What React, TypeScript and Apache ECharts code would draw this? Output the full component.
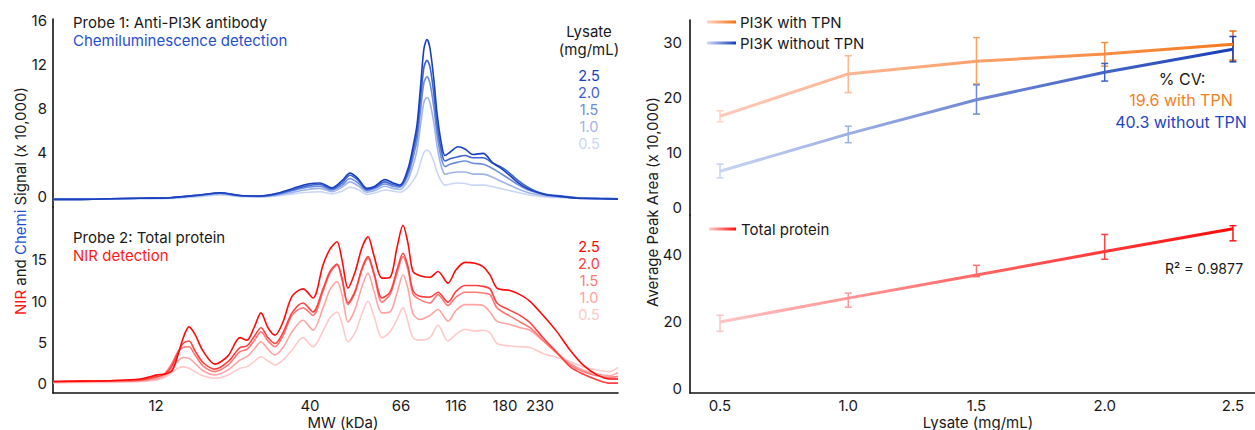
import React, { useEffect, useRef } from "react";
import * as echarts from "echarts";

// ---------- Left panel: electropherograms (x = relative migration position, a.u.) ----------
const mwTickPos = [103, 257, 348, 403, 452, 487];
const mwTickLabels = ["12", "40", "66", "116", "180", "230"];

const chemiX = [0, 27, 57, 87, 117, 147, 167, 187, 207, 224, 240, 255, 267, 279, 289, 297, 305, 314, 322, 332, 340, 347, 355, 360, 364, 368, 371, 374, 377, 381, 384, 388, 392, 397, 405, 412, 420, 430, 440, 447, 454, 464, 474, 484, 494, 509, 524, 547, 565];
const chemi25 = [-0.3, -0.3, -0.25, -0.2, -0.15, 0.1, 0.3, 0.05, 0.0, 0.25, 0.7, 1.1, 1.2, 0.75, 1.4, 2.1, 1.6, 0.7, 0.9, 1.5, 1.2, 1.0, 2.5, 4.5, 6.5, 10.5, 13.5, 14.3, 13.5, 10.5, 7.6, 5.0, 3.7, 4.0, 4.5, 4.3, 3.8, 3.9, 3.0, 2.6, 2.1, 1.3, 0.7, 0.35, 0.1, -0.05, -0.2, -0.25, -0.28];
const chemi20 = [-0.3, -0.3, -0.25, -0.2, -0.15, 0.1, 0.28, 0.05, 0, 0.2, 0.6, 0.95, 1.05, 0.65, 1.2, 1.9, 1.45, 0.6, 0.8, 1.3, 1.05, 0.9, 2.2, 4.0, 5.8, 9.3, 11.8, 12.4, 11.8, 9.2, 6.6, 4.3, 3.2, 3.4, 3.6, 3.7, 3.5, 3.5, 3.0, 2.7, 2.3, 1.5, 0.85, 0.4, 0.15, 0, -0.15, -0.22, -0.25];
const chemi15 = [-0.3, -0.3, -0.25, -0.2, -0.15, 0.08, 0.25, 0.03, -0.02, 0.15, 0.5, 0.8, 0.9, 0.55, 1.0, 1.6, 1.2, 0.5, 0.7, 1.1, 0.9, 0.8, 1.9, 3.5, 5.1, 8.2, 10.4, 10.9, 10.3, 8.0, 5.7, 3.6, 2.7, 2.9, 3.1, 3.2, 3.0, 2.9, 2.5, 2.1, 1.7, 1.1, 0.6, 0.3, 0.1, -0.05, -0.15, -0.22, -0.25];
const chemi10 = [-0.3, -0.3, -0.25, -0.22, -0.18, 0.03, 0.2, 0.0, -0.05, 0.1, 0.35, 0.6, 0.7, 0.4, 0.8, 1.3, 0.95, 0.35, 0.5, 0.9, 0.7, 0.6, 1.5, 2.8, 4.2, 6.8, 8.6, 9.0, 8.5, 6.6, 4.6, 2.8, 2.0, 2.1, 2.2, 2.2, 2.0, 2.0, 1.7, 1.4, 1.1, 0.7, 0.35, 0.15, 0.0, -0.1, -0.18, -0.23, -0.25];
const chemi05 = [-0.3, -0.3, -0.28, -0.25, -0.22, -0.05, 0.1, -0.05, -0.1, 0.0, 0.2, 0.35, 0.4, 0.2, 0.45, 0.8, 0.6, 0.15, 0.3, 0.55, 0.45, 0.35, 0.8, 1.4, 2.0, 3.2, 4.0, 4.2, 4.0, 3.1, 2.2, 1.4, 1.0, 1.1, 1.2, 1.15, 1.0, 1.0, 0.85, 0.7, 0.55, 0.35, 0.15, 0.0, -0.1, -0.15, -0.2, -0.23, -0.25];

const nirX = [0, 27, 57, 87, 104, 112, 119, 125, 130, 136, 142, 150, 162, 175, 187, 194, 201, 208, 215, 222, 230, 239, 250, 260, 270, 277, 284, 289, 295, 302, 309, 315, 321, 329, 337, 344, 350, 355, 360, 367, 377, 385, 395, 403, 412, 422, 430, 437, 444, 457, 467, 477, 490, 504, 517, 530, 544, 557, 565];
const nir25 = [0.3, 0.35, 0.4, 0.6, 1.1, 1.2, 1.6, 3.5, 5.5, 6.9, 6.0, 4.0, 2.4, 3.4, 5.6, 5.3, 6.8, 8.6, 6.8, 5.9, 7.5, 10.6, 11.5, 10.4, 14.4, 16.3, 17.2, 15.0, 11.6, 13.5, 16.5, 17.8, 15.5, 12.8, 12.9, 16.5, 19.2, 17.0, 13.6, 13.1, 12.9, 13.6, 12.2, 13.8, 14.7, 14.6, 14.2, 13.2, 11.6, 11.3, 10.8, 10.0, 8.3, 6.3, 4.1, 2.3, 1.1, 0.6, 0.6];
const nir20 = [0.3, 0.35, 0.4, 0.5, 0.9, 1.2, 2.2, 3.8, 4.9, 5.2, 4.0, 2.6, 1.8, 2.7, 4.4, 4.6, 5.7, 6.8, 5.6, 4.9, 6.2, 8.6, 9.8, 8.7, 11.5, 13.6, 14.5, 12.8, 9.8, 11.2, 14.0, 15.4, 13.4, 10.4, 11.1, 13.8, 15.8, 14.2, 11.3, 10.6, 10.5, 11.1, 9.9, 11.2, 11.9, 11.9, 11.8, 11.5, 9.8, 8.9, 8.3, 7.4, 5.6, 3.8, 2.1, 1.2, 0.5, 0.1, 0.1];
const nir15 = [0.25, 0.3, 0.35, 0.45, 0.8, 1.3, 2.5, 3.9, 4.4, 4.5, 3.5, 2.2, 1.5, 2.3, 3.9, 4.2, 5.2, 6.3, 5.2, 4.5, 5.8, 8.3, 9.2, 8.3, 11.2, 13.4, 14.4, 12.6, 9.6, 11.0, 13.8, 15.2, 13.2, 9.9, 10.8, 13.4, 15.4, 13.8, 10.9, 10.2, 9.8, 10.8, 9.5, 10.5, 11.1, 11.1, 11.0, 10.8, 9.2, 8.2, 7.5, 6.8, 5.3, 3.7, 2.3, 1.5, 1.0, 0.8, 0.9];
const nir10 = [0.2, 0.25, 0.3, 0.35, 0.6, 1.0, 1.9, 2.8, 3.2, 3.1, 2.5, 1.6, 1.1, 1.7, 2.9, 3.3, 4.2, 5.1, 4.2, 3.5, 4.4, 6.3, 7.7, 6.5, 9.2, 11.4, 12.4, 10.8, 7.5, 9.0, 11.8, 13.4, 11.2, 8.6, 8.7, 11.0, 13.2, 11.5, 8.5, 7.8, 8.3, 9.0, 7.6, 8.9, 9.6, 9.6, 9.5, 8.7, 7.6, 7.2, 6.8, 6.5, 5.2, 3.8, 2.5, 1.7, 1.2, 1.0, 1.4];
const nir05 = [0.15, 0.2, 0.2, 0.3, 0.5, 0.8, 1.4, 1.9, 2.1, 1.9, 1.5, 1.0, 0.7, 1.1, 1.9, 2.1, 2.7, 3.3, 2.8, 2.3, 2.9, 4.1, 5.6, 4.5, 6.4, 8.0, 8.7, 7.3, 5.1, 6.2, 8.5, 10.0, 8.2, 5.6, 6.3, 7.8, 9.2, 7.5, 5.6, 5.3, 5.6, 7.1, 5.2, 6.0, 6.6, 6.4, 6.5, 6.2, 4.9, 4.6, 4.5, 4.4, 3.7, 3.2, 2.7, 2.1, 1.7, 1.5, 2.0];

const lysateLevels = ["0.5", "1.0", "1.5", "2.0", "2.5"];

// ---------- Right panel: average peak area vs lysate ----------
const lysate = [0.5, 1.0, 1.5, 2.0, 2.5];
const withTPN = [16.5, 24.2, 26.5, 27.8, 29.6];
const withTPNLow = [15.5, 20.8, 22.4, 25.6, 26.7];
const withTPNHigh = [17.5, 27.5, 30.8, 29.9, 32.0];
const withoutTPN = [6.5, 13.3, 19.5, 24.5, 28.7];
const withoutTPNLow = [5.3, 11.7, 16.9, 22.9, 26.4];
const withoutTPNHigh = [7.8, 14.7, 22.2, 26.1, 31.0];
const totalProtein = [20.0, 27.1, 34.0, 41.0, 47.8];
const totalProteinLow = [17.2, 24.4, 33.5, 38.7, 44.2];
const totalProteinHigh = [22.0, 28.6, 36.9, 46.1, 48.7];

// ---------- styles ----------
const FONT = "Inter, 'Noto Sans', sans-serif";
const INK = "#1a1a1a";
const blueShades = ["#c9d6f4", "#9fb4ea", "#6d8ddd", "#3d63cf", "#1a40bd"];
const redShades = ["#ffc9c9", "#ffa3a3", "#ff7878", "#ff4040", "#ff0a0a"];
const orangeBarColors = ["#ffd2c2", "#ffb890", "#fca260", "#f98e3e", "#e8691a"];
const blueBarColors = ["#c5d2f2", "#9ab0e8", "#6b89d9", "#3d62c9", "#1c3fae"];
const redBarColors = ["#ffc2c2", "#ff9b9b", "#ff7272", "#ff4444", "#ff1515"];

const grad = (c0: string, c1: string) =>
  new echarts.graphic.LinearGradient(0, 0, 1, 0, [
    { offset: 0, color: c0 },
    { offset: 1, color: c1 },
  ]);

const axisLineStyle = { color: "#111", width: 1.6 };

function errRender(colors: string[]) {
  return (params: any, api: any) => {
    const x = api.value(0);
    const lo = api.coord([x, api.value(1)]);
    const hi = api.coord([x, api.value(2)]);
    const w = 3.5;
    const style = { stroke: colors[params.dataIndex], lineWidth: 1.5 };
    return {
      type: "group",
      children: [
        { type: "line", shape: { x1: lo[0], y1: lo[1], x2: hi[0], y2: hi[1] }, style },
        { type: "line", shape: { x1: lo[0] - w, y1: lo[1], x2: lo[0] + w, y2: lo[1] }, style },
        { type: "line", shape: { x1: hi[0] - w, y1: hi[1], x2: hi[0] + w, y2: hi[1] }, style },
      ],
    };
  };
}

function text(x: number, y: number, t: string, fill: string, opts: any = {}) {
  return {
    type: "text",
    x,
    y,
    silent: true,
    rotation: opts.rotation || 0,
    style: {
      text: t,
      fill,
      fontSize: opts.fontSize || 15,
      fontFamily: FONT,
      align: opts.align || "left",
      verticalAlign: "middle",
      rich: opts.rich,
    },
  };
}

export default function App() {
  const ref = useRef<HTMLDivElement>(null);

  useEffect(() => {
    if (!ref.current) return;
    const chart = echarts.init(ref.current, null, { renderer: "svg" });

    const chemiSets = [chemi05, chemi10, chemi15, chemi20, chemi25];
    const nirSets = [nir05, nir10, nir15, nir20, nir25];

    const traceSeries: any[] = [];
    chemiSets.forEach((arr, i) => {
      traceSeries.push({
        type: "line",
        name: "Chemi " + lysateLevels[i],
        xAxisIndex: 0,
        yAxisIndex: 0,
        data: chemiX.map((x, j) => [x, arr[j]]),
        symbol: "none",
        smooth: 0.3,
        lineStyle: { width: 1.6, color: blueShades[i] },
        z: 2 + i,
      });
    });
    nirSets.forEach((arr, i) => {
      traceSeries.push({
        type: "line",
        name: "NIR " + lysateLevels[i],
        xAxisIndex: 1,
        yAxisIndex: 1,
        data: nirX.map((x, j) => [x, arr[j]]),
        symbol: "none",
        smooth: 0.3,
        lineStyle: { width: 1.6, color: redShades[i] },
        z: 2 + i,
      });
    });

    const rightSeries: any[] = [
      {
        type: "custom",
        name: "with TPN err",
        xAxisIndex: 2,
        yAxisIndex: 2,
        data: lysate.map((x, i) => [x, withTPNLow[i], withTPNHigh[i]]),
        encode: { x: 0, y: [1, 2] },
        renderItem: errRender(orangeBarColors),
        z: 3,
      },
      {
        type: "custom",
        name: "without TPN err",
        xAxisIndex: 2,
        yAxisIndex: 2,
        data: lysate.map((x, i) => [x, withoutTPNLow[i], withoutTPNHigh[i]]),
        encode: { x: 0, y: [1, 2] },
        renderItem: errRender(blueBarColors),
        z: 3,
      },
      {
        type: "custom",
        name: "total err",
        xAxisIndex: 3,
        yAxisIndex: 3,
        data: lysate.map((x, i) => [x, totalProteinLow[i], totalProteinHigh[i]]),
        encode: { x: 0, y: [1, 2] },
        renderItem: errRender(redBarColors),
        z: 3,
      },
      {
        type: "line",
        name: "PI3K with TPN",
        xAxisIndex: 2,
        yAxisIndex: 2,
        data: lysate.map((x, i) => [x, withTPN[i]]),
        symbol: "none",
        lineStyle: { width: 3, color: grad("#ffc9bb", "#f57a1e") },
        z: 4,
      },
      {
        type: "line",
        name: "PI3K without TPN",
        xAxisIndex: 2,
        yAxisIndex: 2,
        data: lysate.map((x, i) => [x, withoutTPN[i]]),
        symbol: "none",
        lineStyle: { width: 3, color: grad("#c8d5f3", "#1a3fb8") },
        z: 4,
      },
      {
        type: "line",
        name: "Total protein",
        xAxisIndex: 3,
        yAxisIndex: 3,
        data: lysate.map((x, i) => [x, totalProtein[i]]),
        symbol: "none",
        lineStyle: { width: 3, color: grad("#ffc4c4", "#ff0a0a") },
        z: 4,
      },
    ];

    const labelStyle = { color: INK, fontSize: 15, fontFamily: FONT };

    const graphics: any[] = [
      text(73, 22, "Probe 1: Anti-PI3K antibody", INK),
      text(73, 40, "Chemiluminescence detection", "#1f4fd0"),
      text(589, 31, "Lysate", INK, { align: "center" }),
      text(589, 49, "(mg/mL)", INK, { align: "center" }),
      text(73, 237, "Probe 2: Total protein", INK),
      text(73, 255, "NIR detection", "#ff1a1a"),
      text(343, 422, "MW (kDa)", INK, { align: "center" }),
      text(978, 422, "Lysate (mg/mL)", INK, { align: "center" }),
      text(20, 201, "{r|NIR} and {b|Chemi} Signal (x 10,000)", INK, {
        align: "center",
        rotation: Math.PI / 2,
        rich: {
          r: { fill: "#ff1a1a", fontSize: 15, fontFamily: FONT },
          b: { fill: "#1f4fd0", fontSize: 15, fontFamily: FONT },
        },
      }),
      text(652, 202, "Average Peak Area (x 10,000)", INK, {
        align: "center",
        rotation: Math.PI / 2,
      }),
      // right legends
      {
        type: "rect",
        silent: true,
        shape: { x: 707, y: 20.5, width: 29, height: 3 },
        style: { fill: grad("#ffd6c8", "#f5700f") },
      },
      text(740, 22, "PI3K with TPN", INK),
      {
        type: "rect",
        silent: true,
        shape: { x: 707, y: 41.5, width: 29, height: 3 },
        style: { fill: grad("#cfdaf5", "#1a3fb8") },
      },
      text(740, 43, "PI3K without TPN", INK),
      {
        type: "rect",
        silent: true,
        shape: { x: 709, y: 227.5, width: 27, height: 3 },
        style: { fill: grad("#ffd0d0", "#ff0a0a") },
      },
      text(741, 229, "Total protein", INK),
      text(1182, 79, "% CV:", INK, { align: "center", fontSize: 16 }),
      text(1181, 100, "19.6 with TPN", "#f5801f", { align: "center", fontSize: 16 }),
      text(1181, 122, "40.3 without TPN", "#1f45c4", { align: "center", fontSize: 16 }),
      text(1204, 268, "R² = 0.9877", INK, { align: "center", fontSize: 14 }),
    ];
    const chemiLegendY = [143, 126, 109, 92, 75];
    const nirLegendY = [314, 297, 280, 263, 246];
    lysateLevels.forEach((lv, i) => {
      graphics.push(text(589, chemiLegendY[i], lv, blueShades[i], { align: "center", fontSize: 14.5 }));
      graphics.push(text(589, nirLegendY[i], lv, redShades[i], { align: "center", fontSize: 14.5 }));
    });

    const option: any = {
      animation: false,
      backgroundColor: "#ffffff",
      textStyle: { fontFamily: FONT },
      grid: [
        { left: 53, top: 19, width: 565, height: 188 },
        { left: 53, top: 207, width: 565, height: 186 },
        { left: 690, top: 20, width: 565, height: 195 },
        { left: 690, top: 215, width: 565, height: 178 },
      ],
      xAxis: [
        { gridIndex: 0, type: "value", min: 0, max: 565, show: false },
        {
          gridIndex: 1,
          type: "value",
          min: 0,
          max: 565,
          axisLine: { show: true, onZero: false, lineStyle: axisLineStyle },
          axisTick: { show: false },
          splitLine: { show: false },
          axisLabel: {
            ...labelStyle,
            margin: 5,
            customValues: mwTickPos,
            formatter: (v: number) => {
              const k = mwTickPos.indexOf(Math.round(v));
              return k >= 0 ? mwTickLabels[k] : "";
            },
          },
        },
        { gridIndex: 2, type: "value", min: 0.383, max: 2.586, show: false },
        {
          gridIndex: 3,
          type: "value",
          min: 0.383,
          max: 2.586,
          axisLine: { show: true, onZero: false, lineStyle: axisLineStyle },
          axisTick: { show: false },
          splitLine: { show: false },
          axisLabel: {
            ...labelStyle,
            margin: 5,
            customValues: lysate,
            formatter: (v: number) => v.toFixed(1),
          },
        },
      ],
      yAxis: [
        {
          gridIndex: 0,
          type: "value",
          min: -1.0,
          max: 16.18,
          axisLine: { show: true, onZero: false, lineStyle: axisLineStyle },
          axisTick: { show: false },
          splitLine: { show: false },
          axisLabel: { ...labelStyle, margin: 6, customValues: [0, 4, 8, 12, 16] },
        },
        {
          gridIndex: 1,
          type: "value",
          min: -1.09,
          max: 21.4,
          axisLine: { show: true, onZero: false, lineStyle: axisLineStyle },
          axisTick: { show: false },
          splitLine: { show: false },
          axisLabel: { ...labelStyle, margin: 6, customValues: [0, 5, 10, 15] },
        },
        {
          gridIndex: 2,
          type: "value",
          min: -1.45,
          max: 34,
          axisLine: { show: true, onZero: false, lineStyle: axisLineStyle },
          axisTick: { show: false },
          splitLine: { show: false },
          axisLabel: { ...labelStyle, margin: 8, customValues: [0, 10, 20, 30] },
        },
        {
          gridIndex: 3,
          type: "value",
          min: -1.2,
          max: 51.9,
          axisLine: { show: true, onZero: false, lineStyle: axisLineStyle },
          axisTick: { show: false },
          splitLine: { show: false },
          axisLabel: { ...labelStyle, margin: 8, customValues: [0, 20, 40] },
        },
      ],
      series: [...traceSeries, ...rightSeries],
      graphic: graphics,
    };

    chart.setOption(option);
    return () => chart.dispose();
  }, []);

  return (
    <div
      ref={ref}
      style={{ position: "fixed", left: 0, top: 0, width: 1255, height: 430, background: "#fff" }}
    />
  );
}
